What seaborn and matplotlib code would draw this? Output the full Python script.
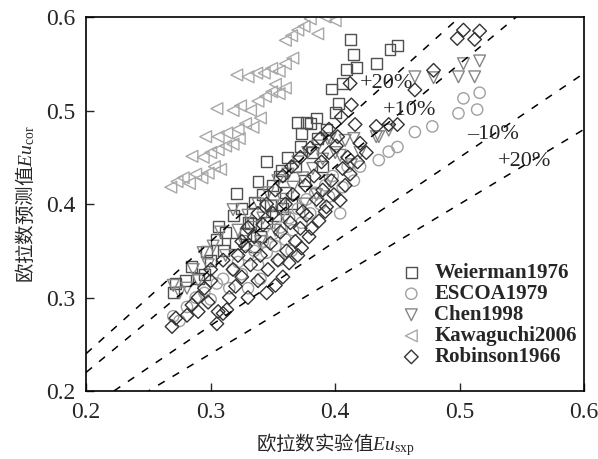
import pandas as pd
import matplotlib
matplotlib.use("Agg")
import matplotlib.pyplot as plt
import seaborn as sns

weierman_x = [0.270, 0.272, 0.285, 0.290, 0.297, 0.300, 0.305, 0.306, 0.312, 0.318, 0.321, 0.325,
              0.330, 0.332, 0.335, 0.338, 0.340, 0.342, 0.345, 0.348, 0.350, 0.352, 0.355, 0.357,
              0.360, 0.362, 0.365, 0.368, 0.370, 0.372, 0.373, 0.375, 0.377, 0.380, 0.382, 0.385,
              0.386, 0.390, 0.393, 0.397, 0.400, 0.403, 0.406, 0.409, 0.412, 0.415, 0.417, 0.433,
              0.444, 0.450, 0.310, 0.320, 0.328, 0.345, 0.358, 0.335, 0.295, 0.280]
weierman_y = [0.305, 0.315, 0.333, 0.320, 0.349, 0.340, 0.362, 0.376, 0.370, 0.388, 0.411, 0.395,
              0.380, 0.379, 0.402, 0.424, 0.365, 0.410, 0.445, 0.398, 0.420, 0.388, 0.430, 0.436,
              0.412, 0.450, 0.400, 0.440, 0.487, 0.462, 0.475, 0.425, 0.487, 0.486, 0.455, 0.492,
              0.470, 0.440, 0.480, 0.523, 0.498, 0.507, 0.529, 0.544, 0.576, 0.560, 0.546, 0.550,
              0.565, 0.570, 0.350, 0.358, 0.368, 0.380, 0.395, 0.355, 0.325, 0.318]

escoa_x = [0.270, 0.275, 0.281, 0.288, 0.295, 0.300, 0.305, 0.310, 0.315, 0.318, 0.322, 0.325,
           0.330, 0.335, 0.338, 0.342, 0.345, 0.350, 0.352, 0.356, 0.360, 0.363, 0.366, 0.370,
           0.373, 0.377, 0.380, 0.384, 0.388, 0.392, 0.395, 0.398, 0.404, 0.406, 0.410, 0.415,
           0.420, 0.435, 0.443, 0.450, 0.464, 0.478, 0.499, 0.514, 0.503, 0.516, 0.340, 0.355,
           0.365, 0.330]
escoa_y = [0.280, 0.275, 0.290, 0.300, 0.305, 0.298, 0.315, 0.320, 0.310, 0.330, 0.338, 0.325,
           0.345, 0.350, 0.335, 0.360, 0.348, 0.368, 0.355, 0.375, 0.362, 0.385, 0.372, 0.395,
           0.380, 0.405, 0.390, 0.412, 0.400, 0.420, 0.408, 0.430, 0.390, 0.418, 0.440, 0.425,
           0.440, 0.447, 0.456, 0.461, 0.477, 0.483, 0.497, 0.501, 0.513, 0.519, 0.320, 0.340,
           0.350, 0.310]

chen_x = [0.270, 0.275, 0.281, 0.286, 0.290, 0.294, 0.298, 0.302, 0.308, 0.312, 0.318, 0.322,
          0.326, 0.330, 0.334, 0.338, 0.342, 0.346, 0.350, 0.354, 0.358, 0.362, 0.366, 0.370,
          0.374, 0.378, 0.382, 0.386, 0.390, 0.394, 0.396, 0.400, 0.404, 0.408, 0.413, 0.415,
          0.420, 0.433, 0.435, 0.443, 0.464, 0.479, 0.499, 0.512, 0.503, 0.516, 0.340, 0.352,
          0.360, 0.375, 0.385, 0.395]
chen_y = [0.313, 0.305, 0.310, 0.330, 0.318, 0.348, 0.335, 0.355, 0.370, 0.345, 0.394, 0.372,
          0.360, 0.388, 0.375, 0.400, 0.385, 0.412, 0.398, 0.425, 0.405, 0.432, 0.418, 0.445,
          0.428, 0.455, 0.438, 0.462, 0.448, 0.470, 0.470, 0.455, 0.452, 0.468, 0.442, 0.470,
          0.455, 0.472, 0.472, 0.479, 0.536, 0.535, 0.536, 0.536, 0.550, 0.553, 0.360, 0.372,
          0.385, 0.400, 0.410, 0.425]

kawaguchi_x = [0.268, 0.273, 0.278, 0.283, 0.288, 0.293, 0.298, 0.303, 0.308, 0.285, 0.294, 0.300,
               0.306, 0.312, 0.318, 0.323, 0.296, 0.306, 0.313, 0.322, 0.328, 0.334, 0.305, 0.318,
               0.324, 0.332, 0.338, 0.344, 0.349, 0.355, 0.360, 0.321, 0.330, 0.337, 0.343, 0.349,
               0.355, 0.360, 0.366, 0.360, 0.365, 0.370, 0.375, 0.386, 0.380, 0.392, 0.400, 0.340,
               0.352]
kawaguchi_y = [0.418, 0.424, 0.428, 0.422, 0.432, 0.428, 0.433, 0.440, 0.437, 0.451, 0.450, 0.455,
               0.458, 0.462, 0.464, 0.470, 0.472, 0.472, 0.476, 0.480, 0.486, 0.482, 0.502, 0.500,
               0.505, 0.500, 0.510, 0.515, 0.520, 0.518, 0.524, 0.538, 0.536, 0.540, 0.540, 0.545,
               0.542, 0.550, 0.556, 0.575, 0.580, 0.586, 0.590, 0.582, 0.598, 0.600, 0.596, 0.492,
               0.528]

robinson_x = [0.269, 0.272, 0.281, 0.285, 0.290, 0.295, 0.300, 0.305, 0.306, 0.310, 0.313, 0.315,
              0.318, 0.320, 0.322, 0.325, 0.328, 0.330, 0.332, 0.335, 0.338, 0.340, 0.342, 0.345,
              0.346, 0.348, 0.350, 0.352, 0.354, 0.356, 0.358, 0.360, 0.361, 0.363, 0.364, 0.366,
              0.368, 0.370, 0.372, 0.373, 0.374, 0.376, 0.377, 0.379, 0.381, 0.383, 0.385, 0.387,
              0.389, 0.390, 0.392, 0.393, 0.395, 0.397, 0.399, 0.401, 0.402, 0.404, 0.405, 0.406,
              0.408, 0.410, 0.412, 0.413, 0.412, 0.416, 0.418, 0.420, 0.425, 0.433, 0.443, 0.450,
              0.464, 0.479, 0.498, 0.503, 0.512, 0.516, 0.330, 0.338, 0.345, 0.352, 0.358, 0.365,
              0.372, 0.380, 0.388, 0.395, 0.310, 0.300, 0.290, 0.298, 0.325]
robinson_y = [0.269, 0.278, 0.281, 0.292, 0.300, 0.310, 0.318, 0.272, 0.285, 0.283, 0.287, 0.300,
              0.330, 0.312, 0.345, 0.322, 0.355, 0.300, 0.335, 0.365, 0.318, 0.345, 0.378, 0.305,
              0.330, 0.358, 0.390, 0.313, 0.340, 0.370, 0.322, 0.400, 0.350, 0.337, 0.380, 0.410,
              0.360, 0.345, 0.374, 0.353, 0.392, 0.420, 0.388, 0.365, 0.374, 0.430, 0.405, 0.382,
              0.445, 0.415, 0.392, 0.397, 0.455, 0.425, 0.410, 0.462, 0.472, 0.404, 0.493, 0.438,
              0.420, 0.450, 0.432, 0.506, 0.529, 0.485, 0.445, 0.465, 0.455, 0.483, 0.485, 0.485,
              0.522, 0.543, 0.577, 0.586, 0.576, 0.585, 0.375, 0.390, 0.400, 0.415, 0.430, 0.440,
              0.450, 0.460, 0.470, 0.480, 0.340, 0.330, 0.285, 0.295, 0.360]

series = [
    ("Weierman1976", weierman_x, weierman_y, "s", "#505050", 62),
    ("ESCOA1979", escoa_x, escoa_y, "o", "#a0a0a0", 66),
    ("Chen1998", chen_x, chen_y, "v", "#858585", 72),
    ("Kawaguchi2006", kawaguchi_x, kawaguchi_y, "<", "#a8a8a8", 72),
    ("Robinson1966", robinson_x, robinson_y, "D", "#333333", 48),
]

# droites d'écart relatif
ref_x = [0.2, 0.6]
ratios = [1.2, 1.1, 0.9, 0.8]

sns.set_style("ticks")
plt.rcParams['font.family'] = ['Liberation Serif', 'Noto Sans CJK SC']
# mathtext : rm = police CJK pour le texte chinois, it/sf = Liberation Serif
plt.rcParams['mathtext.fontset'] = 'custom'
plt.rcParams['mathtext.rm'] = 'Noto Sans CJK SC'
plt.rcParams['mathtext.it'] = 'Liberation Serif:italic'
plt.rcParams['mathtext.sf'] = 'Liberation Serif'

fig = plt.figure(figsize=(5.98, 4.59), dpi=100)
ax = fig.add_axes([0.144, 0.148, 0.833, 0.815])

for k in ratios:
    ax.plot(ref_x, [k * v for v in ref_x], color='black', lw=1.1, linestyle=(0, (5, 6)))

for name, xs, ys, m, c, s in series:
    df = pd.DataFrame({'x': xs, 'y': ys})
    sns.scatterplot(data=df, x='x', y='y', marker=m, s=s, facecolors='none',
                    edgecolor=c, linewidth=1.0, label=name, ax=ax)

ax.text(0.420, 0.529, '+20%', fontsize=16, va='center', ha='left')
ax.text(0.438, 0.500, '+10%', fontsize=16, va='center', ha='left')
ax.text(0.506, 0.474, '–10%', fontsize=16, va='center', ha='left')
ax.text(0.531, 0.445, '+20%', fontsize=16, va='center', ha='left')

ax.set_xlim(0.2, 0.6)
ax.set_ylim(0.2, 0.6)
ax.set_xticks([0.2, 0.3, 0.4, 0.5, 0.6])
ax.set_yticks([0.2, 0.3, 0.4, 0.5, 0.6])
ax.set_xticklabels(['0.2', '0.3', '0.4', '0.5', '0.6'])
ax.set_yticklabels(['0.2', '0.3', '0.4', '0.5', '0.6'])
ax.tick_params(direction='in', length=6, width=1, labelsize=17, pad=8)
for sp in ax.spines.values():
    sp.set_linewidth(1.2)
    sp.set_color('black')

ax.set_xlabel('$\\mathrm{欧拉数实验值}\\mathit{Eu}_{\\mathsf{sxp}}$', fontsize=14, labelpad=6)
ax.set_ylabel('$\\mathrm{欧拉数预测值}\\mathit{Eu}_{\\mathsf{cor}}$', fontsize=14, labelpad=6)

leg = ax.legend(loc='lower right', bbox_to_anchor=(1.01, 0.03), frameon=False,
                handletextpad=0.1, labelspacing=0.05, borderaxespad=0.2,
                prop={'family': 'Liberation Serif', 'weight': 'bold', 'size': 15})

fig.savefig('out.png', dpi=100)
